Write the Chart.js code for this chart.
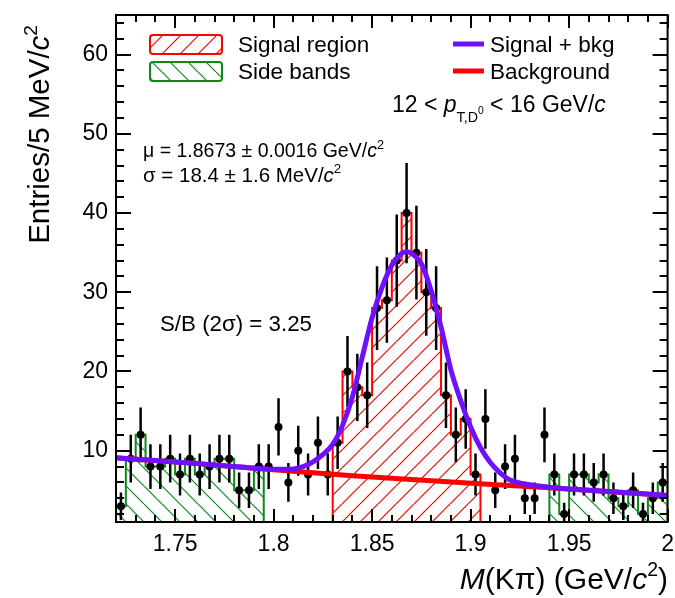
<!DOCTYPE html>
<html><head><meta charset="utf-8">
<script src="https://cdn.jsdelivr.net/npm/chart.js@4.4.1/dist/chart.umd.min.js"></script>
<style>html,body{margin:0;padding:0;background:#fff;}canvas{display:block;}</style>
</head><body>
<canvas id="c" width="675" height="598"></canvas>
<script>
// ---- data ----
const binStart = 1.72;
const binWidth = 0.005;
const counts = [3,9,12,8,8,9,7,9,7,8,9,9,5,5,8,8,13,6,10,7,11,7,11,20,18,17,28,29,34,40,35,30,28,17,12,14,7,14,5,8,9,4,4,12,7,2,7,7,6,7,4,3,5,2,4,6];
const signalRegion = [1.83, 1.905];
const sideBandLeft = [1.72, 1.795];
const sideBandRight = [1.94, 2.0];
const fitMass  = [1.72,1.74,1.76,1.78,1.79,1.80,1.81,1.815,1.82,1.825,1.83,1.835,1.84,1.845,1.85,1.855,1.86,1.865,1.8675,1.87,1.875,1.88,1.885,1.89,1.895,1.90,1.905,1.91,1.915,1.92,1.93,1.94,1.96,1.98,2.0];
const fitTotal = [9.1,8.75,8.4,8.0,7.8,7.65,7.7,8.0,8.6,9.5,10.8,13.2,16.8,21.8,26.8,30.6,33.4,34.9,35.1,34.9,33.6,30.2,25.6,20.2,16.3,13.0,10.4,8.5,7.2,6.3,5.7,5.4,5.0,4.7,4.35];
const bkgMass = [1.72,1.76,1.80,1.84,1.88,1.92,1.96,2.0];
const bkgVal  = [9.1,8.4,7.6,6.85,6.2,5.6,5.0,4.35];
const xTicks = [1.75,1.8,1.85,1.9,1.95,2];
const xTickLabels = ['1.75','1.8','1.85','1.9','1.95','2'];
const yTicks = [10,20,30,40,50,60];
const yTickLabels = ['10','20','30','40','50','60'];
const xRange = [1.72, 2.0];
const yRange = [1, 65];

const FONT = "'Liberation Sans', Arial, Helvetica, sans-serif";
const PURPLE = '#6f10ff', RED = '#ff0000', GREEN = '#0b8a1a';

function binCenter(i){ return binStart + (i + 0.5) * binWidth; }

function histPoints(range){
  const pts = [];
  const idx = [];
  counts.forEach((n,i)=>{ const c = binCenter(i); if (c > range[0] && c < range[1]) idx.push(i); });
  const lo = binStart + idx[0]*binWidth;
  pts.push({x: lo, y: yRange[0]});
  idx.forEach(i => pts.push({x: binStart + i*binWidth, y: counts[i]}));
  pts.push({x: binStart + (idx[idx.length-1]+1)*binWidth, y: yRange[0]});
  return pts;
}

function hatch(color, dir){
  const s = 18;
  const c = document.createElement('canvas'); c.width = s; c.height = s;
  const g = c.getContext('2d');
  g.strokeStyle = color; g.lineWidth = 1.2;
  g.beginPath();
  for (const k of [-s, 0, s]) {
    if (dir > 0) { g.moveTo(k, s); g.lineTo(k + s, 0); }
    else { g.moveTo(k, 0); g.lineTo(k + s, s); }
  }
  g.stroke();
  return document.getElementById('c').getContext('2d').createPattern(c, 'repeat');
}
const redHatch = hatch(RED, 1);
const greenHatch = hatch(GREEN, -1);

const markerData = counts.map((n,i)=>({x: binCenter(i), y: n}));
const errData = [];
counts.forEach((n,i)=>{
  const e = Math.sqrt(n), c = binCenter(i);
  errData.push({x:c, y:n-e}, {x:c, y:n+e}, {x:c, y:null});
});

// rich text helper
function richWidth(ctx, parts, size){
  let w = 0;
  for (const p of parts){ ctx.font = (p.i?'italic ':'') + (size*(p.s||1)) + 'px ' + FONT; w += ctx.measureText(p.t).width; }
  return w;
}
function rich(ctx, parts, x, y, size){
  let cx = x;
  for (const p of parts){
    ctx.font = (p.i?'italic ':'') + (size*(p.s||1)) + 'px ' + FONT;
    ctx.fillText(p.t, cx, y + (p.dy||0)*size);
    cx += ctx.measureText(p.t).width;
  }
  return cx;
}

const decor = {
  id: 'decor',
  afterDraw(chart){
    const ctx = chart.ctx, a = chart.chartArea, xs = chart.scales.x, ys = chart.scales.y;
    ctx.save();
    ctx.strokeStyle = '#000'; ctx.fillStyle = '#000';
    // ticks
    ctx.lineWidth = 2;
    ctx.beginPath();
    for (let k = 0; k <= 28; k++){
      const v = xRange[0] + k*0.01;
      const px = Math.round(xs.getPixelForValue(v)) ;
      const major = xTicks.some(t => Math.abs(t - v) < 1e-6);
      const L = major ? 13 : 7;
      ctx.moveTo(px, a.bottom); ctx.lineTo(px, a.bottom - L);
      ctx.moveTo(px, a.top); ctx.lineTo(px, a.top + L);
    }
    for (let v = 2; v <= 64; v += 2){
      const py = Math.round(ys.getPixelForValue(v));
      const major = v % 10 === 0;
      const L = major ? 15 : 8;
      ctx.moveTo(a.left, py); ctx.lineTo(a.left + L, py);
      ctx.moveTo(a.right, py); ctx.lineTo(a.right - L, py);
    }
    ctx.stroke();
    // frame
    ctx.lineWidth = 2;
    ctx.strokeRect(a.left, a.top, a.right - a.left, a.bottom - a.top);

    // legend
    ctx.lineWidth = 2;
    const boxes = [[RED, redHatch, 35, 'Signal region'], [GREEN, greenHatch, 62, 'Side bands']];
    ctx.textBaseline = 'alphabetic'; ctx.textAlign = 'left';
    for (const [col, pat, by, label] of boxes){
      ctx.beginPath();
      ctx.roundRect(150, by, 72, 19, 3);
      ctx.fillStyle = pat; ctx.fill();
      ctx.strokeStyle = col; ctx.stroke();
      ctx.fillStyle = '#000';
      ctx.font = '22.5px ' + FONT;
      ctx.fillText(label, 238, by + 17);
    }
    ctx.lineWidth = 5;
    ctx.strokeStyle = PURPLE; ctx.beginPath(); ctx.moveTo(453, 44); ctx.lineTo(484, 44); ctx.stroke();
    ctx.strokeStyle = RED; ctx.beginPath(); ctx.moveTo(453, 71); ctx.lineTo(484, 71); ctx.stroke();
    ctx.fillStyle = '#000'; ctx.font = '22.5px ' + FONT;
    ctx.fillText('Signal + bkg', 490, 52);
    ctx.fillText('Background', 490, 79);

    // annotations
    rich(ctx, [{t:'12 < '},{t:'p',i:1},{t:'T,D',s:0.62,dy:0.42},{t:'0',s:0.45,dy:0.08},{t:' < 16 GeV/'},{t:'c',i:1}], 392, 112, 23);
    rich(ctx, [{t:'\u03bc = 1.8673 \u00b1 0.0016 GeV/'},{t:'c',i:1},{t:'2',s:0.65,dy:-0.42}], 143, 157, 19.5);
    rich(ctx, [{t:'\u03c3 = 18.4 \u00b1 1.6 MeV/'},{t:'c',i:1},{t:'2',s:0.65,dy:-0.42}], 143, 182, 20.5);
    rich(ctx, [{t:'S/B (2\u03c3) = 3.25'}], 160, 331, 22.3);

    // axis titles
    const xt = [{t:'M',i:1},{t:'(K\u03c0) (GeV/'},{t:'c',i:1},{t:'2',s:0.65,dy:-0.42},{t:')'}];
    const xw = richWidth(ctx, xt, 30);
    rich(ctx, xt, 668 - xw, 589, 30);
    const yt = [{t:'Entries/5 MeV/'},{t:'c',i:1},{t:'2',s:0.65,dy:-0.42}];
    const yw = richWidth(ctx, yt, 29.5);
    ctx.translate(49, 25 + yw);
    ctx.rotate(-Math.PI/2);
    rich(ctx, yt, 0, 0, 29.5);
    ctx.restore();
  }
};

new Chart(document.getElementById('c'), {
  type: 'scatter',
  data: {
    datasets: [
      { data: histPoints(signalRegion), showLine: true, stepped: true, borderColor: RED, borderWidth: 2, backgroundColor: redHatch, fill: 'origin', pointRadius: 0, order: 6 },
      { data: histPoints(sideBandLeft), showLine: true, stepped: true, borderColor: GREEN, borderWidth: 2, backgroundColor: greenHatch, fill: 'origin', pointRadius: 0, order: 5 },
      { data: histPoints(sideBandRight), showLine: true, stepped: true, borderColor: GREEN, borderWidth: 2, backgroundColor: greenHatch, fill: 'origin', pointRadius: 0, order: 5 },
      { data: errData, showLine: true, spanGaps: false, borderColor: '#000', borderWidth: 2.5, pointRadius: 0, order: 4 },
      { data: markerData, pointRadius: 4, pointBackgroundColor: '#000', pointBorderWidth: 0, order: 3 },
      { data: bkgMass.map((m,i)=>({x:m, y:bkgVal[i]})), showLine: true, borderColor: RED, borderWidth: 5, pointRadius: 0, cubicInterpolationMode: 'monotone', order: 2 },
      { data: fitMass.map((m,i)=>({x:m, y:fitTotal[i]})), showLine: true, borderColor: PURPLE, borderWidth: 5, pointRadius: 0, cubicInterpolationMode: 'monotone', order: 1 }
    ]
  },
  options: {
    responsive: false, animation: false,
    layout: { padding: { left: 0, right: 7, top: 15, bottom: 0 } },
    plugins: { legend: { display: false }, tooltip: { enabled: false } },
    scales: {
      x: {
        type: 'linear', min: xRange[0], max: xRange[1],
        grid: { display: false }, border: { display: false },
        afterBuildTicks: s => { s.ticks = xTicks.map(v => ({value: v})); },
        afterFit: s => { s.height = 76; },
        ticks: { color: '#000', font: { family: FONT, size: 23 }, padding: 1, maxRotation: 0, autoSkip: false,
          callback: (v) => xTickLabels[xTicks.findIndex(t => Math.abs(t - v) < 1e-9)] }
      },
      y: {
        min: yRange[0], max: yRange[1],
        grid: { display: false }, border: { display: false },
        afterBuildTicks: s => { s.ticks = yTicks.map(v => ({value: v})); },
        afterFit: s => { s.width = 116; },
        ticks: { color: '#000', font: { family: FONT, size: 23 }, padding: 0,
          callback: (v) => yTickLabels[yTicks.indexOf(v)] }
      }
    }
  },
  plugins: [decor]
});
</script>
</body></html>
